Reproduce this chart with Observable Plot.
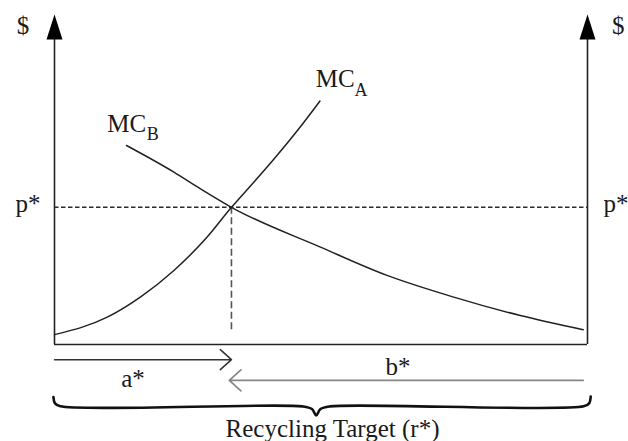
<!DOCTYPE html>
<html>
<head>
<meta charset="utf-8">
<script src="https://cdn.jsdelivr.net/npm/d3@7"></script>
<script src="https://cdn.jsdelivr.net/npm/@observablehq/plot@0.6"></script>
<style>
  html, body { margin: 0; padding: 0; background: #fff; }
  #chart { width: 628px; height: 441px; overflow: hidden; }
</style>
</head>
<body>
<div id="chart"></div>
<script>
// ---- data (x: 0..100 = recycling target, y: 0..100 = $) ----
const mcA_x = [0, 9.9, 16.1, 22.4, 28.6, 33.2, 37.1, 41.5, 45.8, 49.8];
const mcA_y = [3.0, 8.3, 14.4, 22.5, 32.6, 41.7, 48.8, 57.0, 65.5, 74.0];
const mcB_x = [13.5, 22.4, 27.4, 33.2, 49.9, 62.4, 74.9, 87.4, 99.2];
const mcB_y = [60.5, 52.4, 47.3, 41.7, 29.6, 21.0, 14.4, 8.8, 4.5];
const pStar = 41.7;          // equilibrium price
const aStar = 33.2;          // firm A's share of the target
const rTotal = 100;          // recycling target
const vDashBottom = 4.3;

// annotation rows below the axis (in y units)
const aArrowY = -4.6;
const bArrowY = -10.9;
const aLabelY = -13.0;
const bLabelY = -9.2;
const braceX = [-0.2, 0.1, 1.1, 46.5, 48.3, 49.1, 49.9, 51.7, 99.3, 100.3, 100.6];
const braceY = [-16.0, -17.9, -18.8, -18.8, -19.6, -21.6, -19.6, -18.8, -18.8, -17.9, -15.8];
const targetLabelY = -28.0;

// labels
const labels = [
  {x: -7.1, y: 94.5, text: "$", size: 25},
  {x: 104.6, y: 94.5, text: "$", size: 25},
  {x: -7.3, y: 40.3, text: "p*", size: 25},
  {x: 103.0, y: 40.3, text: "p*", size: 25},
  {x: 9.9, y: 64.5, text: "MC", size: 25},
  {x: 17.3, y: 62.2, text: "B", size: 18},
  {x: 49.0, y: 78.4, text: "MC", size: 25},
  {x: 56.3, y: 75.6, text: "A", size: 18},
  {x: 12.5, y: aLabelY, text: "a*", size: 25},
  {x: 62.1, y: bLabelY, text: "b*", size: 25},
  {x: 32.1, y: targetLabelY, text: "Recycling Target (r*)", size: 25}
];

const curveA = mcA_x.map((x, i) => ({x, y: mcA_y[i]}));
const curveB = mcB_x.map((x, i) => ({x, y: mcB_y[i]}));
const brace = braceX.map((x, i) => ({x, y: braceY[i]}));

const upArrow = {
  draw(ctx) {
    ctx.moveTo(0, -1);
    ctx.lineTo(-8, 24);
    ctx.lineTo(8, 24);
    ctx.closePath();
  }
};

const font = "'Liberation Serif', 'Times New Roman', serif";
const ink = "#1a1a1a";

const chart = Plot.plot({
  width: 628,
  height: 441,
  marginLeft: 54,
  marginRight: 41,
  marginTop: 15,
  marginBottom: 97,
  x: {domain: [0, rTotal], axis: null},
  y: {domain: [0, 100], axis: null},
  style: {background: "#fff", fontFamily: font, color: ink, overflow: "visible"},
  marks: [
    // axes
    Plot.ruleX([0, rTotal], {y1: 0, y2: 93, stroke: "#222", strokeWidth: 1.6}),
    Plot.ruleY([0], {x1: 0, x2: rTotal, stroke: "#222", strokeWidth: 1.6}),
    Plot.dot([{x: 0}, {x: rTotal}], {x: "x", y: 100, symbol: upArrow, fill: "#000", stroke: "none", r: 8}),
    // p* dashed line and a* dashed drop
    Plot.ruleY([pStar], {x1: 0, x2: rTotal, stroke: "#2a2a2a", strokeWidth: 1.6, strokeDasharray: "4.5,2.5"}),
    Plot.ruleX([aStar], {y1: pStar, y2: vDashBottom, stroke: "#555", strokeWidth: 1.6, strokeDasharray: "7,3.5"}),
    // marginal cost curves
    Plot.line(curveA, {x: "x", y: "y", curve: "monotone-x", stroke: "#222", strokeWidth: 1.5}),
    Plot.line(curveB, {x: "x", y: "y", curve: "monotone-x", stroke: "#222", strokeWidth: 1.5}),
    // a* and b* arrows
    Plot.arrow([{x1: 0, x2: aStar, y: aArrowY}], {x1: "x1", x2: "x2", y1: "y", y2: "y", stroke: "#333", strokeWidth: 1.5, headLength: 15, headAngle: 84}),
    Plot.arrow([{x1: 99.2, x2: 32.8, y: bArrowY}], {x1: "x1", x2: "x2", y1: "y", y2: "y", stroke: "#888", strokeWidth: 1.8, headLength: 13, headAngle: 84}),
    // brace
    Plot.line(brace, {x: "x", y: "y", curve: "catmull-rom", stroke: "#111", strokeWidth: 2.6}),
    // labels
    Plot.text(labels, {x: "x", y: "y", text: "text", fontSize: "size", textAnchor: "start", lineAnchor: "bottom", fill: ink, fontFamily: font})
  ]
});

document.getElementById("chart").append(chart);
</script>
</body>
</html>
